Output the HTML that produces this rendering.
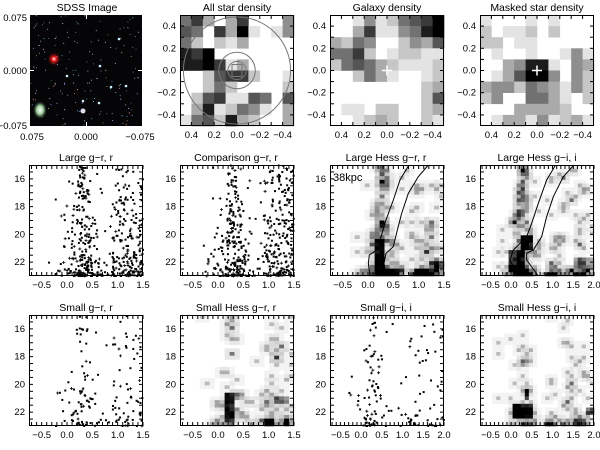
<!DOCTYPE html>
<html><head><meta charset="utf-8">
<style>
html,body{margin:0;padding:0;background:#fff;}
svg{display:block;font-family:"Liberation Sans",sans-serif;font-size:9.5px;}
.t{font-size:10.5px;text-anchor:middle}
.xl{text-anchor:middle}
.yl{text-anchor:end}
</style></head><body>
<svg id="s" width="600" height="450" viewBox="0 0 600 450" xmlns="http://www.w3.org/2000/svg">
<rect width="600" height="450" fill="#fff"/>
<g id="content"></g>
<text class="t" x="87" y="11">SDSS Image</text>
<text class="t" x="237" y="11">All star density</text>
<text class="t" x="387" y="11">Galaxy density</text>
<text class="t" x="537" y="11">Masked star density</text>
<text class="t" x="86" y="161">Large g−r, r</text>
<text class="t" x="236" y="161">Comparison g−r, r</text>
<text class="t" x="386" y="161">Large Hess g−r, r</text>
<text class="t" x="537" y="161">Large Hess g−i, i</text>
<text class="t" x="86" y="311">Small g−r, r</text>
<text class="t" x="236" y="311">Small Hess g−r, r</text>
<text class="t" x="386" y="311">Small g−i, i</text>
<text class="t" x="537" y="311">Small Hess g−i, i</text>
<text class="yl" x="27" y="21">0.075</text>
<text class="yl" x="27" y="74">0.000</text>
<text class="yl" x="27" y="129">−0.075</text>
<text class="xl" x="32" y="140">0.075</text>
<text class="xl" x="86" y="140">0.000</text>
<text class="xl" x="140" y="140">−0.075</text>
<g id="dlabels"></g>
<text x="333" y="181" style="font-size:11px">38kpc</text>
</svg>
<script>
var S='http://www.w3.org/2000/svg',C=document.getElementById('content'),DL=document.getElementById('dlabels');
function el(n,a,p){var e=document.createElementNS(S,n);for(var k in a)e.setAttribute(k,a[k]);(p||C).appendChild(e);return e;}
var seed=7;function R(){seed=(seed*16807)%2147483647;return (seed-1)/2147483646;}
function gauss(){return Math.sqrt(-2*Math.log(R()+1e-9))*Math.cos(6.283*R());}
var cols=[29,180,330,480],W=114,H=111,rows=[15,165,315];
function gray(v){var c=Math.round(255*(1-v/9));return 'rgb('+c+','+c+','+c+')';}
function ticks(x0,y0,xs,ys){
 xs.forEach(function(x){el('line',{x1:x,x2:x,y1:y0+H,y2:y0+H-4,stroke:'#000','stroke-width':1});el('line',{x1:x,x2:x,y1:y0,y2:y0+4,stroke:'#000','stroke-width':1});});
 ys.forEach(function(y){el('line',{x1:x0,x2:x0+4,y1:y,y2:y,stroke:'#000','stroke-width':1});el('line',{x1:x0+W,x2:x0+W-4,y1:y,y2:y,stroke:'#000','stroke-width':1});});
}
function frame(x0,y0){el('rect',{x:x0+.5,y:y0+.5,width:W-1,height:H-1,fill:'none',stroke:'#000','stroke-width':1});}
el('rect',{x:30,y:15,width:112,height:111,fill:'#050508'});
for(var i=0;i<160;i++){var c=['#9cf','#fff','#8aa','#6cf','#aaf','#fa8'][Math.floor(R()*6)];el('rect',{x:30+R()*111,y:15+R()*110,width:1,height:1,fill:c,opacity:.5+R()*.5});}
[[119,39],[67,76],[100,66],[126,86],[83,101],[99,103],[111,87]].forEach(function(p){el('circle',{cx:p[0],cy:p[1],r:1.3,fill:'#cef'});});
var g=el('radialGradient',{id:'rs'});el('stop',{offset:'0','stop-color':'#fff'},g);el('stop',{offset:'.3','stop-color':'#f22'},g);el('stop',{offset:'1','stop-color':'#300','stop-opacity':'0'},g);
el('circle',{cx:54,cy:59,r:7,fill:'url(#rs)'});
var g2=el('radialGradient',{id:'gx'});el('stop',{offset:'0','stop-color':'#fff'},g2);el('stop',{offset:'.5','stop-color':'#9c9'},g2);el('stop',{offset:'1','stop-color':'#232','stop-opacity':'0'},g2);
el('ellipse',{cx:40,cy:110,rx:7,ry:9,fill:'url(#gx)'});
el('circle',{cx:83,cy:111,r:2.5,fill:'#dde'});
el('line',{x1:30,x2:34,y1:70.5,y2:70.5,stroke:'#fff'});el('line',{x1:138,x2:142,y1:70.5,y2:70.5,stroke:'#fff'});
el('line',{x1:86.5,x2:86.5,y1:122,y2:126,stroke:'#fff'});el('line',{x1:86.5,x2:86.5,y1:15,y2:19,stroke:'#fff'});
var dens=[
[[5,7,3,0,3,7,0,0,0,4],[6,5,0,7,3,9,1,0,1,4],[5,2,0,2,1,3,0,0,0,0],[8,7,9,0,0,0,0,0,0,0],[8,8,9,7,1,3,0,0,0,0],[0,0,2,6,7,7,2,0,0,1],[0,0,2,5,2,0,0,0,0,2],[0,2,6,7,1,1,6,5,0,6],[0,3,8,1,2,5,4,1,0,3],[1,5,6,2,8,3,2,0,0,3]],
[[0,0,1,4,1,2,5,6,7,9],[0,0,3,7,1,1,4,5,8,9],[3,2,5,4,0,0,2,4,3,6],[5,5,7,2,0,1,2,2,1,1],[2,5,6,5,3,2,1,1,1,2],[0,0,2,5,3,1,0,0,1,2],[0,0,0,0,0,0,0,0,2,3],[0,0,0,0,0,0,0,0,2,6],[0,1,1,0,2,2,0,0,2,3],[0,0,1,2,3,2,0,0,2,1]],
[[1,0,0,0,1,0,1,0,0,0],[2,0,1,1,2,0,2,0,0,0],[2,2,0,1,1,0,0,0,0,0],[0,1,0,0,1,0,0,1,4,1],[0,0,3,4,8,8,1,0,4,3],[0,1,3,6,9,9,4,0,4,2],[3,4,4,2,5,4,3,1,4,2],[2,4,0,0,5,5,3,1,0,2],[0,0,0,3,3,3,3,2,0,0],[0,1,3,3,1,4,1,2,3,1]]];
for(var p=0;p<3;p++){var x0=cols[p+1],y0=15;
 for(var r=0;r<10;r++)for(var c=0;c<10;c++){var v=dens[p][r][c];if(v)el('rect',{x:x0+c*W/10,y:y0+r*H/10,width:W/10+.3,height:H/10+.3,fill:gray(v)});}
 var sx=function(v){return x0+(0.5-v)*W;},sy=function(v){return y0+(0.5-v)*H;};
 var xs=[],ys=[];for(var v=-0.4;v<=0.45;v+=0.1){xs.push(sx(v));ys.push(sy(v));}
 ticks(x0,y0,xs,ys);frame(x0,y0);
 [0.4,0.2,0.0,-0.2,-0.4].forEach(function(v){var s=v.toFixed(1).replace('-','−');if(v==0)s='0.0';
  var t=el('text',{x:sx(v),y:y0+H+12,'text-anchor':'middle'},DL);t.textContent=s;
  var t2=el('text',{x:x0-4,y:sy(v)+3,'text-anchor':'end'},DL);t2.textContent=s;});
 if(p==0){var cx=sx(0),cy=sy(0);
  el('circle',{cx:cx,cy:cy,r:0.47*W,fill:'none',stroke:'#777','stroke-width':1});
  el('circle',{cx:cx,cy:cy,r:0.16*W,fill:'none',stroke:'#777'});
  el('circle',{cx:cx,cy:cy,r:0.08*W,fill:'none',stroke:'#777'});
  el('rect',{x:cx-5,y:cy-6,width:10,height:12,fill:'none',stroke:'#777'});}
 else{var cx=sx(0),cy=sy(0);el('path',{d:'M'+(cx-5)+' '+cy+'h10M'+cx+' '+(cy-5)+'v10',stroke:'#fff','stroke-width':1.5});}
}
function sample(xmax){var m=23-Math.pow(R(),2.0)*8.3,c,u=R();
 if(u<0.45)c=0.3+gauss()*(0.08+(m-17)*0.02);else if(u<0.8)c=0.9+R()*(xmax-0.9);else c=-0.3+R()*(xmax+0.3);
 return [c,m];}
function cmd(col,row,xmax,type,n,sd,blobs){seed=sd;var x0=cols[col],y0=rows[row];
 var sx=function(v){return x0+(v+0.75)/(xmax+0.75)*W;},sy=function(m){return y0+(m-15)/8*H;};
 if(type=='dots'){for(var i=0;i<n;i++){var s=sample(xmax),c=s[0],m=s[1];
   if(c<-0.7||c>xmax||m<15||m>23)continue;var dx=sx(c),dy=sy(m);
   if(R()<0.2)el('path',{d:'M'+(dx-1.5)+' '+dy+'h3M'+dx+' '+(dy-1.5)+'v3',stroke:'#000','stroke-width':.8});
   else el('rect',{x:dx-1,y:dy-1,width:2,height:2,fill:'#000'});}}
 else{var nc=Math.round((xmax+0.75)/0.1),nr=30,cw=W/nc,ch=H/nr;
  var grid=[];for(var r=0;r<nr;r++){grid.push([]);for(var c=0;c<nc;c++)grid[r].push(0);}
  for(var i=0;i<n;i++){var s=sample(xmax),cc=s[0],m=s[1];
   var ci=Math.floor((cc+0.75)/0.1),ri=Math.floor((m-15)/8*nr);
   for(var a=-1;a<=1;a++)for(var b=-1;b<=1;b++){var rr=ri+a,c2=ci+b;if(rr>=0&&rr<nr&&c2>=0&&c2<nc)grid[rr][c2]+=(a==0&&b==0)?1:0.18;}}
  (blobs||[]).forEach(function(bb){for(var r=0;r<nr;r++)for(var c=0;c<nc;c++){var cc=-0.75+(c+0.5)*0.1,m=15+(r+0.5)*8/nr;
    if(cc>=bb[0]&&cc<=bb[1]&&m>=bb[2]&&m<=bb[3])grid[r][c]+=bb[4]*(0.6+0.4*R());}});
  for(var r=0;r<nr;r++)for(var c=0;c<nc;c++){var v=grid[r][c];if(v>0.15)el('rect',{x:x0+c*cw,y:y0+r*ch,width:cw+.3,height:ch+.3,fill:gray(Math.min(9,v*2.4))});}}
 var xs=[];for(var v=-0.7;v<=xmax+0.01;v+=0.1)xs.push(sx(v));var ys=[];for(var m=15.5;m<23;m+=0.5)ys.push(sy(m));
 ticks(x0,y0,xs,ys);frame(x0,y0);
 var labs=xmax>1.6?[-0.5,0,0.5,1,1.5,2]:[-0.5,0,0.5,1,1.5];
 labs.forEach(function(v){var t=el('text',{x:sx(v),y:y0+H+12,'text-anchor':'middle'},DL);t.textContent=(v<0?'−':'')+Math.abs(v).toFixed(1);});
 [16,18,20,22].forEach(function(m){var t=el('text',{x:x0-4,y:sy(m)+3,'text-anchor':'end'},DL);t.textContent=m;});
}
cmd(0,1,1.5,'dots',470,11);
cmd(1,1,1.5,'dots',480,23);
cmd(2,1,1.5,'hess',180,31,[[0.15,0.35,20.3,22.8,3.5],[0.95,1.2,22.5,23,3.5],[0.4,0.75,22.6,23,1.5]]);
cmd(3,1,2.0,'hess',200,41,[[-0.05,0.4,21.2,22.8,3.5],[0.3,0.5,20.0,21.0,3.5],[0.85,1.2,22.7,23,3.5],[1.6,2.0,21.8,22.5,1.5]]);
cmd(0,2,1.5,'dots',150,53);
cmd(1,2,1.5,'hess',100,61,[[0.15,0.35,20.6,22.7,3.5],[1.0,1.2,22.6,23,3.5],[1.2,1.4,20.9,21.3,1.5]]);
cmd(2,2,2.0,'dots',140,71);
cmd(3,2,2.0,'hess',110,83,[[0.1,0.5,21.5,22.5,3.5],[0.35,0.45,20.3,21.0,3.5],[0.9,1.1,22.8,23,3],[1.85,2.0,21.8,22.3,3]]);
function curve(pts,ox,oy){var d='';pts.forEach(function(p,i){d+=(i?'L':'M')+(ox+p[0]/3)+' '+(oy+p[1]/3);});el('path',{d:d,fill:'none',stroke:'#000','stroke-width':1});}
curve([[325,78],[300,120],[280,180],[258,240],[243,290],[230,330],[208,345],[205,370],[210,408]],300,140);
curve([[385,75],[355,110],[325,160],[305,220],[292,270],[280,320],[258,340],[252,370],[258,408]],300,140);
curve([[765,78],[740,120],[715,190],[695,250],[680,290],[640,330],[630,360],[655,408]],300,140);
curve([[822,75],[790,110],[760,170],[740,230],[725,290],[700,330],[680,340],[680,360],[715,408]],300,140);
</script>
</body></html>
